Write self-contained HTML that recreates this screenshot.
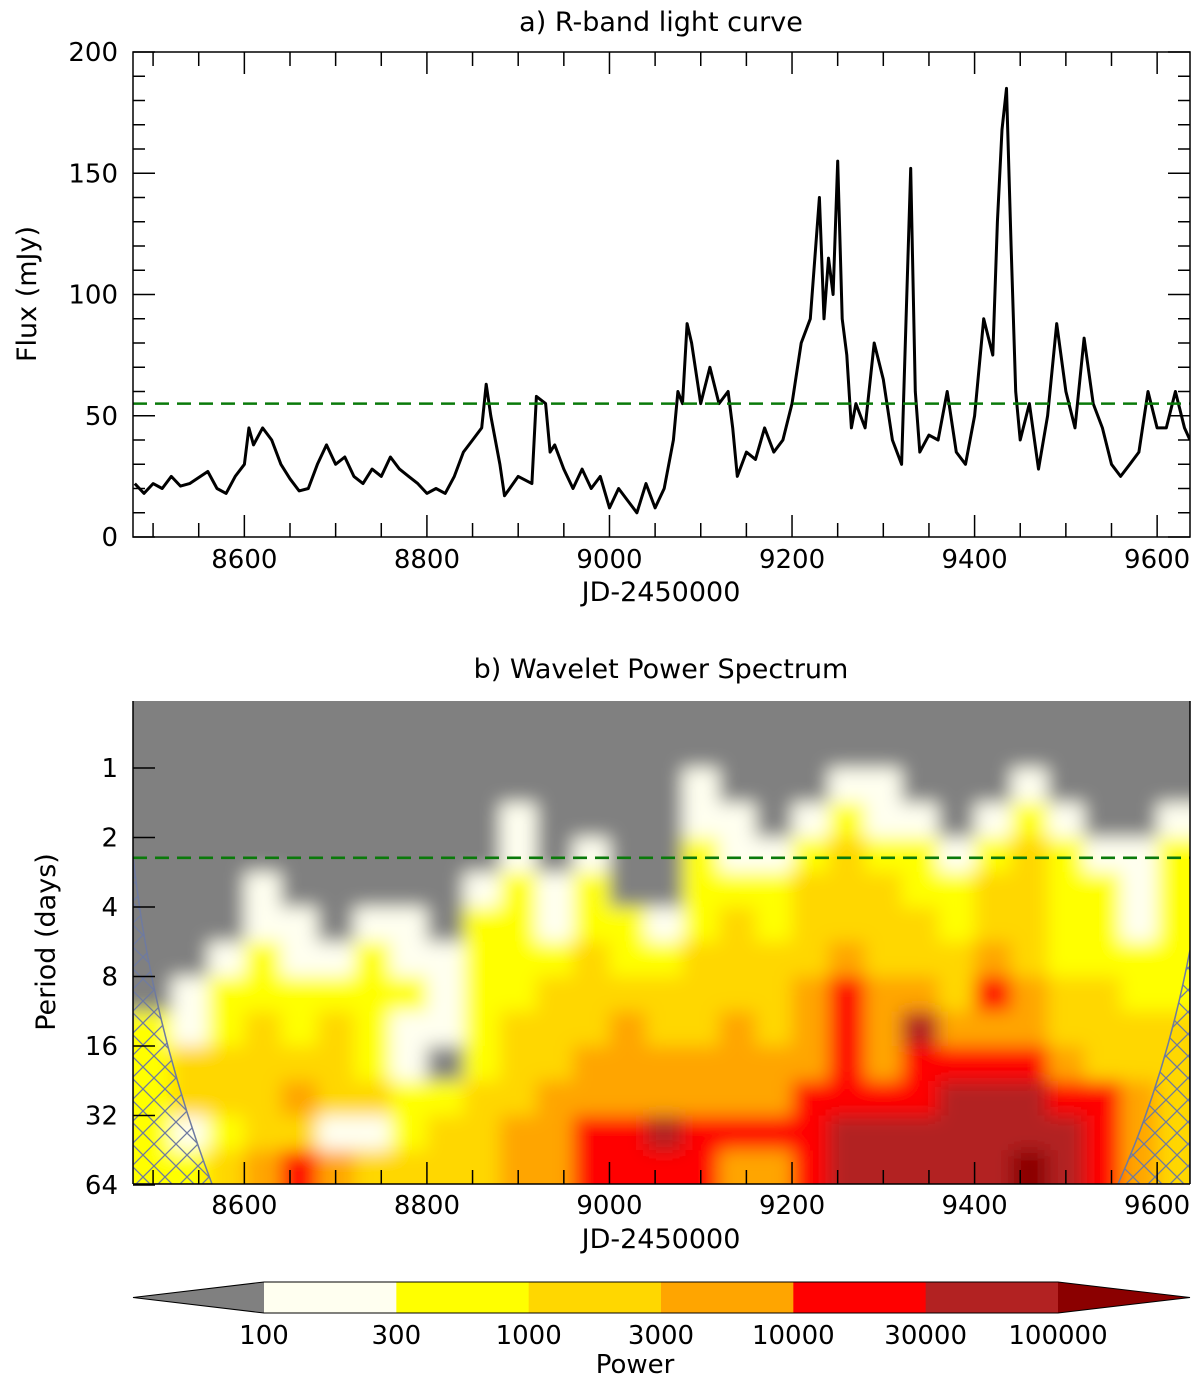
<!DOCTYPE html>
<html><head><meta charset="utf-8"><style>
body{margin:0;background:#fff}
svg{display:block;font-family:"DejaVu Sans","Liberation Sans",sans-serif}
</style></head><body>
<svg id="fig" width="1200" height="1385" viewBox="0 0 1200 1385">
<defs>
<pattern id="hatch" width="22" height="22" patternUnits="userSpaceOnUse">
<path d="M0 0L22 22M22 0L0 22" stroke="#6e7aa0" stroke-width="1.3"/>
</pattern>
<clipPath id="clipA"><rect x="133" y="52" width="1057" height="485"/></clipPath>
<clipPath id="clipB"><rect x="133" y="701" width="1057" height="483"/></clipPath>
<filter id="soft" filterUnits="userSpaceOnUse" x="100" y="680" width="1120" height="540"><feGaussianBlur stdDeviation="9"/></filter>
</defs>
</svg>
<script>
// ---------- data ----------
const lcDays=[8480,8490,8500,8510,8520,8530,8540,8560,8570,8580,8590,8600,8605,8610,8620,8630,8640,8650,8660,8670,8680,8690,8700,8710,8720,8730,8740,8750,8760,8770,8780,8790,8800,8810,8820,8830,8840,8850,8860,8865,8870,8880,8885,8900,8915,8920,8930,8935,8940,8950,8960,8970,8980,8990,9000,9010,9020,9030,9040,9050,9060,9070,9075,9080,9085,9090,9100,9110,9120,9130,9135,9140,9150,9160,9170,9180,9190,9200,9210,9220,9230,9235,9240,9245,9250,9255,9260,9265,9270,9280,9290,9300,9310,9320,9330,9335,9340,9350,9360,9370,9380,9390,9400,9410,9420,9425,9430,9435,9440,9445,9450,9460,9470,9480,9490,9500,9510,9520,9530,9540,9550,9560,9570,9580,9590,9600,9610,9620,9630,9636];
const lcFlux=[22,18,22,20,25,21,22,27,20,18,25,30,45,38,45,40,30,24,19,20,30,38,30,33,25,22,28,25,33,28,25,22,18,20,18,25,35,40,45,63,50,30,17,25,22,58,55,35,38,28,20,28,20,25,12,20,15,10,22,12,20,40,60,55,88,80,55,70,55,60,45,25,35,32,45,35,40,55,80,90,140,90,115,100,155,90,75,45,55,45,80,65,40,30,152,60,35,42,40,60,35,30,50,90,75,130,168,185,120,60,40,55,28,50,88,60,45,82,55,45,30,25,30,35,60,45,45,60,45,40];
const meanFlux=55;
const xTicks=[8600,8800,9000,9200,9400,9600];
const fluxTicks=[0,50,100,150,200];
const periodTicks=[1,2,4,8,16,32,64];
const sigPeriod=2.45;
const gridDays=[8480,8520,8560,8600,8640,8680,8720,8760,8800,8840,8880,8920,8960,9000,9040,9080,9120,9160,9200,9240,9280,9320,9360,9400,9440,9480,9520,9560,9600];
const gridLog2=[-1,-0.5,0,0.5,1,1.5,2,2.5,3,3.5,4,4.5,5,5.5];
const powerLevels=[
[0,0,0,0,0,0,0,0,0,0,0,0,0,0,0,0,0,0,0,0,0,0,0,0,0,0,0,0,0],
[0,0,0,0,0,0,0,0,0,0,0,0,0,0,0,0,0,0,0,0,0,0,0,0,0,0,0,0,0],
[0,0,0,0,0,0,0,0,0,0,0,0,0,0,0,1,0,0,0,1,1,0,0,0,1,0,0,0,0],
[0,0,0,0,0,0,0,0,0,0,1,0,0,0,0,1,1,0,1,2,1,1,0,1,2,1,0,0,1],
[0,0,0,0,0,0,0,0,0,0,1,0,1,0,0,2,1,1,2,3,2,2,1,2,3,2,1,1,2],
[0,0,0,1,0,0,0,0,0,1,2,1,2,0,0,2,2,2,3,3,3,2,2,3,3,2,2,1,2],
[0,0,0,1,1,0,1,1,0,2,2,1,2,2,1,2,3,2,3,3,3,3,2,3,3,2,2,1,2],
[0,0,1,2,1,1,2,1,1,2,2,2,3,2,2,3,3,3,3,4,3,3,3,4,3,2,2,2,2],
[0,1,2,2,2,2,2,2,1,2,2,3,3,3,3,3,3,3,4,5,4,4,3,5,4,3,3,2,2],
[2,1,2,3,2,3,2,1,1,2,3,3,3,4,3,3,4,3,4,5,4,6,4,4,4,3,3,3,3],
[2,3,3,3,3,3,2,1,0,2,3,3,4,4,4,4,4,4,4,5,4,5,5,5,5,4,3,3,3],
[2,3,3,3,4,3,3,2,2,3,3,4,4,4,4,4,4,4,5,5,5,5,6,6,6,5,5,4,3],
[2,1,2,3,3,1,1,2,3,3,4,4,5,5,6,5,5,5,5,6,6,6,6,6,6,6,5,4,3],
[2,2,3,4,5,4,3,3,3,3,4,4,5,5,5,5,4,4,5,6,6,6,6,6,7,6,5,4,3]];
const levelColors=["#808080","#fffff0","#ffff00","#ffd700","#ffa500","#ff0000","#b22222","#8b0000"];
const cbLabels=["100","300","1000","3000","10000","30000","100000"];

// ---------- scales ----------
const X0=133,X1=1190,D0=8478,D1=9636;
const xs=d=>X0+(d-D0)*(X1-X0)/(D1-D0);
const yA=f=>537-f*(537-52)/200;
const yB=p=>768+Math.log2(p)*69.5;
const NS="http://www.w3.org/2000/svg";
const svg=document.getElementById('fig');
function mk(tag,at,parent){const e=document.createElementNS(NS,tag);for(const k in at)e.setAttribute(k,at[k]);(parent||svg).appendChild(e);return e;}
function txt(s,x,y,size,anchor,parent){const t=mk('text',{x:x,y:y,'font-size':size,'text-anchor':anchor||'middle',fill:'#000'},parent);t.textContent=s;return t;}

// ---------- panel a ----------
const gA=mk('g',{});


let t=txt('a) R-band light curve',661,31,27,'middle',gA);


let d='';
lcDays.forEach((v,i)=>{d+=(i?'L':'M')+xs(v).toFixed(1)+' '+yA(lcFlux[i]).toFixed(1);});
let ln=mk('path',{d:d,fill:'none',stroke:'#000','stroke-width':3,'stroke-linejoin':'round','clip-path':'url(#clipA)'},gA);


let mean=mk('line',{x1:X0,x2:X1,y1:yA(meanFlux),y2:yA(meanFlux),stroke:'#0a7a0a','stroke-width':2.6,'stroke-dasharray':'14 8'},gA);


mk('rect',{x:X0,y:52,width:X1-X0,height:485,fill:'none',stroke:'#000','stroke-width':1.5},gA);
for(let dd=8500;dd<=9620;dd+=50){const maj=dd%200===0;const L=maj?22:14;
 mk('line',{x1:xs(dd),x2:xs(dd),y1:537,y2:537-L,stroke:'#000','stroke-width':1.5},gA);
 mk('line',{x1:xs(dd),x2:xs(dd),y1:52,y2:52+L,stroke:'#000','stroke-width':1.5},gA);}
xTicks.forEach(v=>{const e=txt(String(v),xs(v),568,26,'middle',gA);});
for(let f=0;f<=200;f+=10){const maj=f%50===0;const L=maj?22:12;
 mk('line',{x1:X0,x2:X0+L,y1:yA(f),y2:yA(f),stroke:'#000','stroke-width':1.5},gA);
 mk('line',{x1:X1,x2:X1-L,y1:yA(f),y2:yA(f),stroke:'#000','stroke-width':1.5},gA);}
fluxTicks.forEach(v=>{const e=txt(String(v),118,yA(v)+9,26,'end',gA);});
t=txt('JD-2450000',661,601,27,'middle',gA);


t=txt('Flux (mJy)',0,0,27,'middle',gA);t.setAttribute('transform','translate(36,294) rotate(-90)');



// ---------- panel b ----------
const gB=mk('g',{});


t=txt('b) Wavelet Power Spectrum',661,678,27,'middle',gB);


const gC=mk('g',{'clip-path':'url(#clipB)'},gB);
mk('rect',{x:X0,y:701,width:X1-X0,height:483,fill:levelColors[0]},gC);
const gH=mk('g',{filter:'url(#soft)'},gC);
mk('rect',{x:X0-20,y:690,width:X1-X0+40,height:520,fill:levelColors[0]},gH);
powerLevels.forEach((row,r)=>{row.forEach((lv,c)=>{
 const dA=gridDays[c],dB=c+1<gridDays.length?gridDays[c+1]:D1+20;
 const pA=Math.pow(2,gridLog2[r]),pB=Math.pow(2,gridLog2[r]+0.5);
 const x=c===0?X0-20:xs(dA),w=xs(dB)-x+0.5;
 const y=yB(pA),h=yB(pB)-y+0.5;
 const cell=mk('rect',{x:x,y:y,width:w,height:h+(r===powerLevels.length-1?20:0),fill:levelColors[lv]},gH);
 
 
});});
// cone of influence
const coiL='M133 855 Q150 1020 212 1184 L133 1184 Z';
const coiR='M1190 950 Q1165 1080 1118 1184 L1190 1184 Z';
[coiL,coiR].forEach(p=>{const c=mk('path',{d:p,fill:'url(#hatch)',stroke:'#6e7aa0','stroke-width':1.5},gC);
 
 });
let sig=mk('line',{x1:X0,x2:X1,y1:yB(sigPeriod),y2:yB(sigPeriod),stroke:'#0a7a0a','stroke-width':2.6,'stroke-dasharray':'14 8'},gB);


mk('line',{x1:X0,x2:X0,y1:701,y2:1184,stroke:'#000','stroke-width':1.5},gB);
mk('line',{x1:X1,x2:X1,y1:701,y2:1184,stroke:'#000','stroke-width':1.5},gB);
mk('line',{x1:X0,x2:X1,y1:1184,y2:1184,stroke:'#000','stroke-width':1.5},gB);
for(let dd=8500;dd<=9620;dd+=50){const maj=dd%200===0;const L=maj?22:14;
 mk('line',{x1:xs(dd),x2:xs(dd),y1:1184,y2:1184-L,stroke:'#000','stroke-width':1.5},gB);}
periodTicks.forEach(v=>{mk('line',{x1:X0,x2:X0+22,y1:yB(v),y2:yB(v),stroke:'#000','stroke-width':1.5},gB);
 const e=txt(String(v),118,yB(v)+9,26,'end',gB);});
xTicks.forEach(v=>{const e=txt(String(v),xs(v),1214,26,'middle',gB);});
t=txt('JD-2450000',661,1248,27,'middle',gB);


t=txt('Period (days)',0,0,27,'middle',gB);t.setAttribute('transform','translate(55,942) rotate(-90)');



// ---------- colorbar ----------
const gK=mk('g',{});


const cbL=264,cbR=1058,cbY=1282,cbH=31,cw=(cbR-cbL)/6;
let tri=mk('path',{d:`M${cbL} ${cbY}L133 ${cbY+cbH/2}L${cbL} ${cbY+cbH}Z`,fill:levelColors[0]},gK);


for(let i=0;i<6;i++){const r=mk('rect',{x:cbL+i*cw,y:cbY,width:cw+0.5,height:cbH,fill:levelColors[i+1]},gK);
 
 }
tri=mk('path',{d:`M${cbR} ${cbY}L1190 ${cbY+cbH/2}L${cbR} ${cbY+cbH}Z`,fill:levelColors[7]},gK);


mk('path',{d:`M${cbL} ${cbY}L133 ${cbY+cbH/2}L${cbL} ${cbY+cbH}L${cbR} ${cbY+cbH}L1190 ${cbY+cbH/2}L${cbR} ${cbY}Z`,fill:'none',stroke:'#000','stroke-width':1},gK);
cbLabels.forEach((s,i)=>{const e=txt(s,cbL+i*cw,1344,26,'middle',gK);});
t=txt('Power',635,1373,26,'middle',gK);


</script>
</body></html>
